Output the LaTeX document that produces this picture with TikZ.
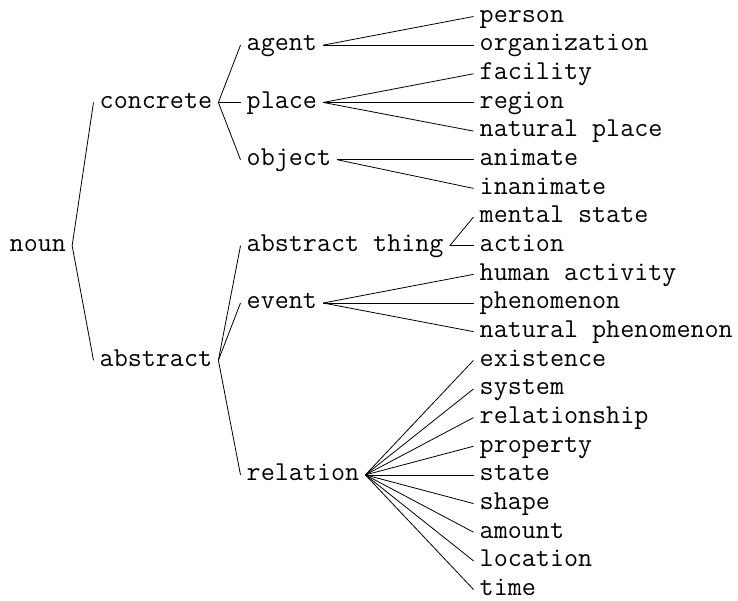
\documentclass[tikz,border=0pt]{standalone}
\usepackage{fontspec}
\begin{document}
\begin{tikzpicture}[x=1pt,y=-1pt,
  lbl/.style={anchor=west, inner xsep=6pt, inner ysep=0pt, text height=11.7pt, text depth=0pt,
    font=\ttfamily\fontsize{27.3}{28}\selectfont},
  edge/.style={line width=0.8pt, black}]
\useasboundingbox (0,0) rectangle (738,601);
\def\Y#1{16.5+28.65*#1}
% level 0
\node[lbl] (noun) at (3.5,{\Y{8}}) {noun};
% level 1
\node[lbl] (concrete) at (93.5,{\Y{3}}) {concrete};
\node[lbl] (abstract) at (93.5,{\Y{12}}) {abstract};
% level 2
\node[lbl] (agent) at (240.5,{\Y{1}}) {agent};
\node[lbl] (place) at (240.5,{\Y{3}}) {place};
\node[lbl] (object) at (240.5,{\Y{5}}) {object};
\node[lbl] (athing) at (240.5,{\Y{8}}) {abstract thing};
\node[lbl] (event) at (240.5,{\Y{10}}) {event};
\node[lbl] (relation) at (240.5,{\Y{16}}) {relation};
% leaves
\node[lbl] (person) at (473.5,{\Y{0}}) {person};
\node[lbl] (organization) at (473.5,{\Y{1}}) {organization};
\node[lbl] (facility) at (473.5,{\Y{2}}) {facility};
\node[lbl] (region) at (473.5,{\Y{3}}) {region};
\node[lbl] (natplace) at (473.5,{\Y{4}}) {natural place};
\node[lbl] (animate) at (473.5,{\Y{5}}) {animate};
\node[lbl] (inanimate) at (473.5,{\Y{6}}) {inanimate};
\node[lbl] (mental) at (473.5,{\Y{7}}) {mental state};
\node[lbl] (action) at (473.5,{\Y{8}}) {action};
\node[lbl] (human) at (473.5,{\Y{9}}) {human activity};
\node[lbl] (phenomenon) at (473.5,{\Y{10}}) {phenomenon};
\node[lbl] (natphen) at (473.5,{\Y{11}}) {natural phenomenon};
\node[lbl] (existence) at (473.5,{\Y{12}}) {existence};
\node[lbl] (system) at (473.5,{\Y{13}}) {system};
\node[lbl] (relationship) at (473.5,{\Y{14}}) {relationship};
\node[lbl] (property) at (473.5,{\Y{15}}) {property};
\node[lbl] (state) at (473.5,{\Y{16}}) {state};
\node[lbl] (shape) at (473.5,{\Y{17}}) {shape};
\node[lbl] (amount) at (473.5,{\Y{18}}) {amount};
\node[lbl] (location) at (473.5,{\Y{19}}) {location};
\node[lbl] (time) at (473.5,{\Y{20}}) {time};
% edges
\foreach \p/\c in {noun/concrete, noun/abstract,
  concrete/agent, concrete/place, concrete/object,
  abstract/athing, abstract/event, abstract/relation,
  agent/person, agent/organization,
  place/facility, place/region, place/natplace,
  object/animate, object/inanimate,
  athing/mental, athing/action,
  event/human, event/phenomenon, event/natphen,
  relation/existence, relation/system, relation/relationship, relation/property,
  relation/state, relation/shape, relation/amount, relation/location, relation/time}
  \draw[edge] (\p.east) -- (\c.west);
\end{tikzpicture}
\end{document}
